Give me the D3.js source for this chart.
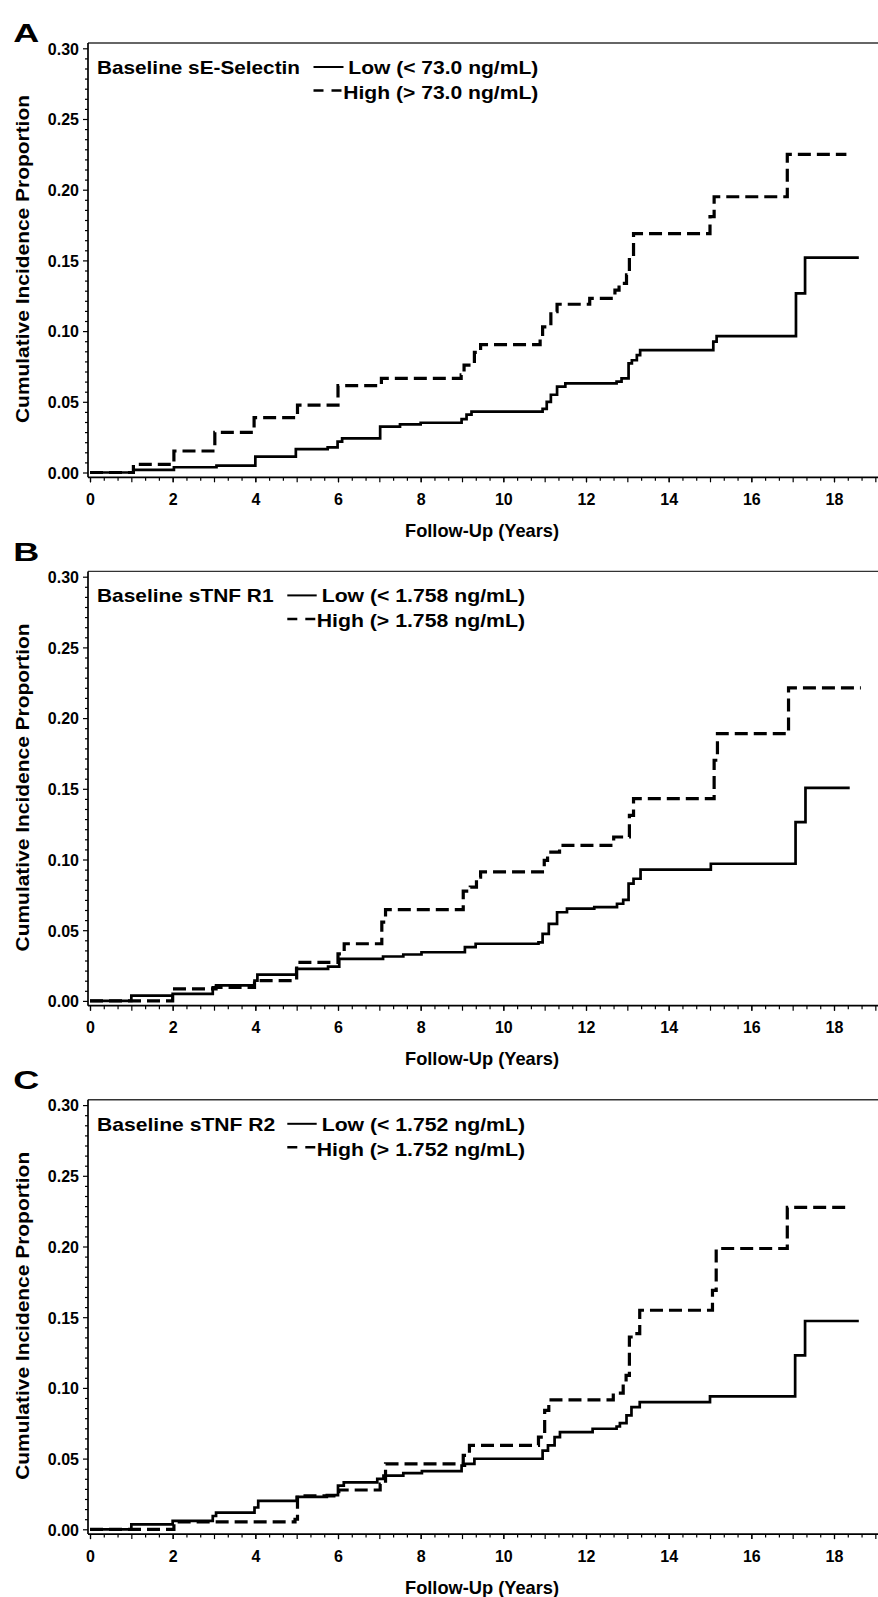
<!DOCTYPE html>
<html>
<head>
<meta charset="utf-8">
<script src="https://cdn.jsdelivr.net/npm/d3@7"></script>
<style>
  html, body { margin: 0; padding: 0; background: #fff; }
  svg { display: block; }
  text { font-family: "Liberation Sans", Arial, Helvetica, sans-serif; font-weight: bold; fill: #000; }
</style>
</head>
<body>
<svg id="chart" width="878" height="1597"></svg>
<script>
// ---------------- DATA ----------------
const panelLetters = ["A", "B", "C"];
const markerNames = ["Baseline sE-Selectin", "Baseline sTNF R1", "Baseline sTNF R2"];
const lowLabels  = ["Low (< 73.0 ng/mL)",  "Low (< 1.758 ng/mL)",  "Low (< 1.752 ng/mL)"];
const highLabels = ["High (> 73.0 ng/mL)", "High (> 1.758 ng/mL)", "High (> 1.752 ng/mL)"];
const yTickValues = [0, 0.05, 0.10, 0.15, 0.20, 0.25, 0.30];
const xTickValues = [0, 2, 4, 6, 8, 10, 12, 14, 16, 18];
const xAxisTitle = "Follow-Up (Years)";
const yAxisTitle = "Cumulative Incidence Proportion";

// [years, cumulative incidence] step points (value holds from that time on)
const lowA = [[0,0],[1.05,0.0018],[2.03,0.0037],[3.06,0.0048],[4.0,0.0112],[4.98,0.0166],[5.75,0.0178],[5.99,0.0218],[6.1,0.0242],[7.02,0.0324],[7.5,0.034],[8.0,0.0352],[8.99,0.0378],[9.11,0.041],[9.23,0.043],[10.95,0.045],[11.05,0.05],[11.15,0.055],[11.3,0.0607],[11.5,0.063],[12.74,0.0642],[12.86,0.0666],[13.03,0.0772],[13.11,0.0794],[13.23,0.083],[13.31,0.0866],[15.08,0.0925],[15.16,0.0965],[17.08,0.1267],[17.3,0.1519],[18.6,0.1519]];
const highA = [[0,0],[1.05,0.0058],[2.03,0.0152],[3.02,0.0284],[3.97,0.0388],[5.02,0.0477],[6.0,0.0614],[7.05,0.0666],[8.98,0.069],[9.05,0.076],[9.3,0.085],[9.45,0.0905],[10.89,0.094],[10.95,0.103],[11.15,0.1137],[11.3,0.119],[12.09,0.1232],[12.7,0.129],[12.8,0.1338],[12.98,0.1397],[13.05,0.1526],[13.15,0.169],[15.0,0.181],[15.1,0.195],[16.87,0.225],[18.3,0.225]];
const lowB = [[0,0],[1.0,0.0037],[2.0,0.005],[2.97,0.0096],[3.05,0.011],[3.98,0.0144],[4.05,0.0186],[4.99,0.0227],[5.76,0.0243],[6.03,0.0297],[7.09,0.0314],[7.58,0.0328],[8.02,0.0344],[9.07,0.038],[9.33,0.0404],[10.85,0.0414],[10.95,0.0474],[11.1,0.0545],[11.3,0.0627],[11.54,0.0652],[12.2,0.0663],[12.75,0.0687],[12.9,0.0715],[13.03,0.0829],[13.15,0.0864],[13.32,0.0928],[15.02,0.097],[17.07,0.1265],[17.31,0.1506],[18.38,0.1506]];
const highB = [[0,0],[2.0,0.0085],[3.05,0.0095],[3.98,0.0144],[5.0,0.0273],[6.0,0.0333],[6.15,0.0404],[7.06,0.0557],[7.15,0.0645],[9.03,0.0776],[9.2,0.0805],[9.35,0.0875],[9.45,0.0912],[10.99,0.0994],[11.07,0.1052],[11.36,0.11],[12.67,0.1159],[13.05,0.1312],[13.15,0.143],[15.1,0.1702],[15.18,0.189],[16.9,0.2214],[18.65,0.2214]];
const lowC = [[0,0],[1.0,0.0035],[2.0,0.0059],[2.97,0.0094],[3.05,0.0118],[3.98,0.0154],[4.07,0.0201],[5.0,0.023],[5.73,0.0242],[6.0,0.0309],[6.14,0.0332],[6.95,0.0356],[7.1,0.038],[7.58,0.0397],[8.03,0.0411],[8.99,0.0451],[9.07,0.0463],[9.3,0.0499],[10.95,0.0557],[11.08,0.0593],[11.24,0.0652],[11.37,0.0687],[12.16,0.0711],[12.74,0.0727],[12.82,0.0751],[12.98,0.0805],[13.1,0.0864],[13.3,0.09],[15.0,0.094],[17.06,0.123],[17.3,0.1473],[18.6,0.1473]];
const highC = [[0,0],[2.03,0.0052],[4.96,0.0071],[5.02,0.0237],[6.02,0.0278],[7.02,0.032],[7.15,0.0463],[9.03,0.0523],[9.18,0.0594],[10.85,0.0652],[11.0,0.0841],[11.1,0.0916],[12.66,0.0963],[12.9,0.103],[12.97,0.1089],[13.05,0.136],[13.15,0.1384],[13.3,0.1549],[15.06,0.169],[15.15,0.1986],[16.87,0.2276],[18.33,0.2276]];

const lowSeries = [lowA, lowB, lowC];
const highSeries = [highA, highB, highC];

// ---------------- LAYOUT ----------------
const svg = d3.select("#chart");
const panelStep = 528.4;
const frameLeft = 88;
const legendLayout = [
  { titleLen: 203, sx0: 313.5, sx1: 343.5, lowX: 348.3, lowLen: 190, highX: 343.3, highLen: 195 },
  { titleLen: 176.6, sx0: 287.3, sx1: 316.7, lowX: 321.7, lowLen: 203.3, highX: 316.7, highLen: 208.3 },
  { titleLen: 178.3, sx0: 287.3, sx1: 316.7, lowX: 321.7, lowLen: 203.3, highX: 316.7, highLen: 208.3 }
];
const letterBaselines = [42, 560.5, 1089];

const x = d3.scaleLinear().domain([0, 18]).range([90, 834]);
const minorX = d3.range(0, 19 * 3 + 1).map(i => i / 3).filter(v => Math.abs(v - Math.round(v)) > 1e-6);
const intX = d3.range(0, 20);
const minorY = d3.range(0, 6 * 7 + 1).map(i => i * 0.05 / 7).filter((v, i) => i % 7 !== 0);

function addText(g, str, xPos, yPos, size, len, anchor) {
  const t = g.append("text").attr("x", xPos).attr("y", yPos)
    .style("font-size", size + "px").attr("text-anchor", anchor || "start").text(str);
  if (len) t.attr("textLength", len).attr("lengthAdjust", "spacingAndGlyphs");
  return t;
}

panelLetters.forEach((letter, i) => {
  const off = i * panelStep;
  const frameTop = 43 + off;
  const axisY = 477.3 + off;
  const y = d3.scaleLinear().domain([0, 0.30]).range([472.5 + off, 48.3 + off]);
  const g = svg.append("g");

  // frame top line (right edge runs past the image)
  g.append("line").attr("x1", frameLeft).attr("x2", 880).attr("y1", frameTop).attr("y2", frameTop)
    .attr("stroke", "#333").attr("stroke-width", 1.4);

  // minor x ticks
  g.append("g").attr("transform", `translate(0,${axisY})`)
    .call(d3.axisBottom(x).tickValues(minorX).tickSize(3.5).tickFormat(""))
    .call(a => a.select(".domain").remove());
  // integer x ticks
  g.append("g").attr("transform", `translate(0,${axisY})`)
    .call(d3.axisBottom(x).tickValues(intX).tickSize(5).tickFormat(""))
    .call(a => a.select(".domain").remove());
  // labelled x ticks
  const xa = g.append("g").attr("transform", `translate(0,${axisY})`)
    .call(d3.axisBottom(x).tickValues(xTickValues).tickSize(5).tickFormat(d3.format("d")));
  xa.select(".domain").remove();
  xa.selectAll("text").attr("y", 27.5).attr("dy", null).style("font-size", "16px")
    .style("font-family", '"Liberation Sans", Arial, sans-serif').style("font-weight", "bold");
  g.selectAll(".tick line").attr("stroke", "#000").attr("stroke-width", 1.2);
  g.append("line").attr("x1", frameLeft).attr("x2", 880).attr("y1", axisY).attr("y2", axisY)
    .attr("stroke", "#000").attr("stroke-width", 1.7);

  // y axis
  g.append("g").attr("transform", `translate(${frameLeft},0)`)
    .call(d3.axisLeft(y).tickValues(minorY).tickSize(3).tickFormat(""))
    .call(a => a.select(".domain").remove());
  const ya = g.append("g").attr("transform", `translate(${frameLeft},0)`)
    .call(d3.axisLeft(y).tickValues(yTickValues).tickSize(5).tickFormat(d3.format(".2f")));
  ya.select(".domain").remove();
  ya.selectAll("text").attr("x", -9).attr("dy", null).attr("y", 5.8).style("font-size", "16px")
    .style("font-family", '"Liberation Sans", Arial, sans-serif').style("font-weight", "bold");
  g.selectAll(".tick line").attr("stroke", "#000").attr("stroke-width", 1.2);
  g.append("line").attr("x1", frameLeft).attr("x2", frameLeft).attr("y1", frameTop).attr("y2", axisY)
    .attr("stroke", "#000").attr("stroke-width", 1.7);

  // curves
  const line = d3.line().x(d => x(d[0])).y(d => y(d[1])).curve(d3.curveStepAfter);
  g.append("path").datum(lowSeries[i]).attr("d", line)
    .attr("fill", "none").attr("stroke", "#000").attr("stroke-width", 2.7);
  g.append("path").datum(highSeries[i]).attr("d", line)
    .attr("fill", "none").attr("stroke", "#000").attr("stroke-width", 3.2)
    .attr("stroke-dasharray", "13,6");

  // legend
  const L = legendLayout[i];
  const r1 = frameTop + 31, r2 = frameTop + 56;
  addText(g, markerNames[i], 97, r1, 18.5, L.titleLen);
  g.append("line").attr("x1", L.sx0).attr("x2", L.sx1).attr("y1", r1 - 7).attr("y2", r1 - 7)
    .attr("stroke", "#000").attr("stroke-width", 2);
  addText(g, lowLabels[i], L.lowX, r1, 18.5, L.lowLen);
  g.append("line").attr("x1", L.sx0).attr("x2", L.sx1).attr("y1", r2 - 8.5).attr("y2", r2 - 8.5)
    .attr("stroke", "#000").attr("stroke-width", 2.5).attr("stroke-dasharray", "10,8");
  addText(g, highLabels[i], L.highX, r2, 18.5, L.highLen);

  // axis titles
  addText(g, xAxisTitle, 482, axisY + 59.4, 18.5, 154, "middle");
  g.append("text").attr("transform", `translate(29,${frameTop + 216}) rotate(-90)`)
    .attr("text-anchor", "middle").style("font-size", "19px")
    .attr("textLength", 328).attr("lengthAdjust", "spacingAndGlyphs").text(yAxisTitle);

  // panel letter
  addText(g, letter, 13.3, letterBaselines[i], 26, 26);
});
</script>
</body>
</html>
